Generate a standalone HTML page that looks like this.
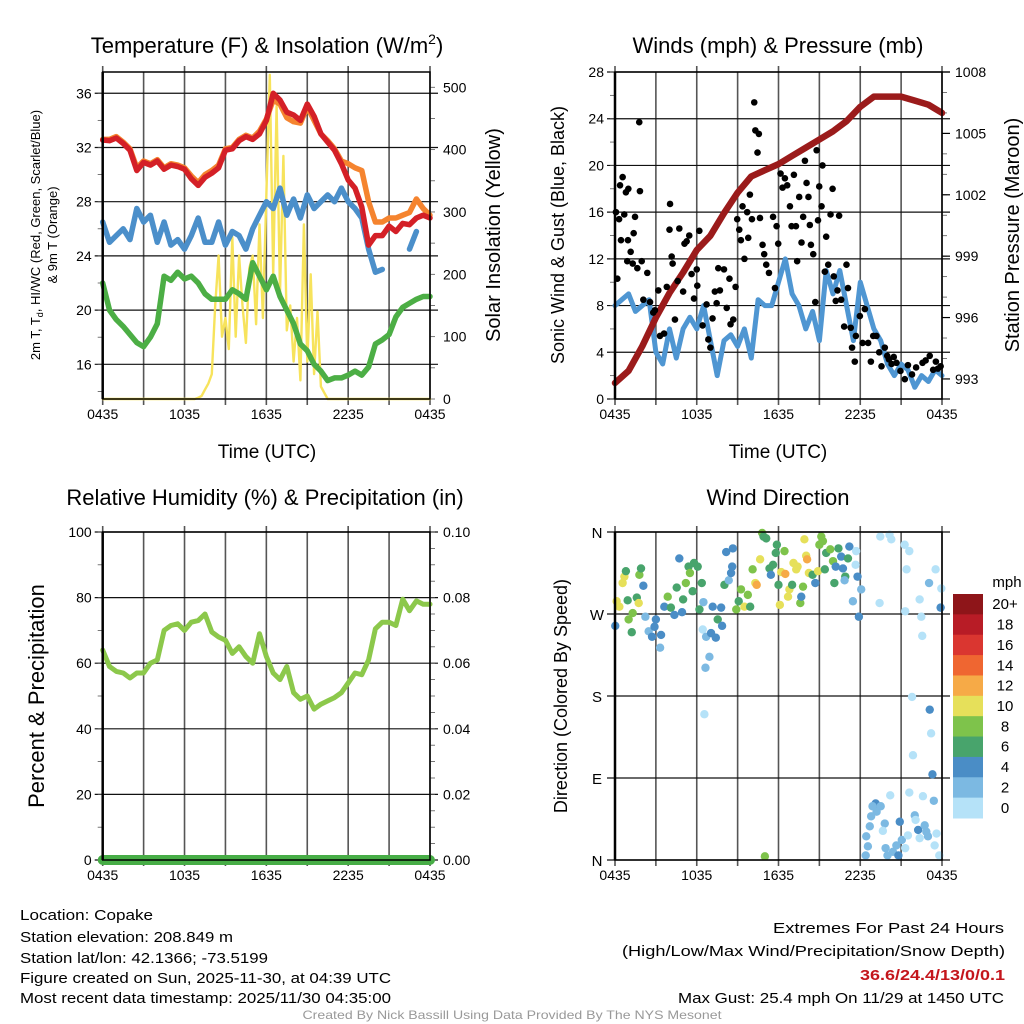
<!DOCTYPE html>
<html><head><meta charset="utf-8"><style>
html,body{margin:0;padding:0;background:#fff;}
svg{display:block;font-family:"Liberation Sans",sans-serif;}
</style></head><body>
<svg id="chart" width="1024" height="1024" viewBox="0 0 1024 1024"></svg>
<script>
// ---- data ----
const halfHours = Array.from({length:49},(_,i)=>i*0.5);
const hourIdx = Array.from({length:25},(_,i)=>i);
const tempRed = [32.55,32.5,32.7,32.3,31.8,30.3,30.9,30.7,31.0,30.4,30.7,30.6,30.4,29.7,29.2,29.8,30.1,30.5,31.8,31.9,32.5,32.8,32.6,33.0,34.0,36.0,35.5,34.6,34.4,34.0,35.2,34.3,33.0,32.4,31.8,30.8,29.6,29.0,27.6,24.8,25.5,25.5,26.2,25.8,26.4,26.3,26.8,27.0,26.8];
const temp9m = [32.6,32.6,32.8,32.4,31.9,30.5,31.0,30.8,31.1,30.5,30.8,30.7,30.5,29.9,29.4,30.0,30.3,30.7,31.9,32.0,32.6,32.9,32.7,33.2,34.1,35.5,35.2,34.2,33.9,33.8,35.0,34.0,33.0,32.5,31.9,31.0,30.8,30.5,30.3,28.0,26.5,26.5,26.8,26.8,27.0,27.2,28.2,27.5,27.0];
const windChill = [26.5,25.0,25.5,26.0,25.2,27.5,26.5,27.0,25.0,26.5,24.8,25.2,24.5,25.5,26.8,25.0,25.0,26.5,24.8,25.8,25.5,24.5,26.0,27.0,28.0,27.5,29.0,27.0,28.2,26.8,28.5,27.5,28.0,28.5,28.0,29.0,28.0,27.5,26.8,24.5,22.8,23.0,null,null,null,24.5,25.8,null,null];
const dewPoint = [22.0,20.0,19.3,18.8,18.2,17.6,17.3,18.0,19.0,22.5,22.2,22.8,22.3,22.5,22.0,21.2,20.8,20.8,20.8,21.5,21.2,20.8,23.5,22.5,21.5,22.5,21.0,20.0,19.0,17.5,17.0,16.0,15.5,14.8,15.0,15.0,15.2,15.5,15.2,15.8,17.5,17.8,18.2,19.5,20.2,20.5,20.8,21.0,21.0];
const solarHours = [0,6.75,7.0,7.25,7.5,7.75,8.0,8.25,8.5,8.75,9.0,9.25,9.5,9.75,10.0,10.25,10.5,10.75,11.0,11.25,11.5,11.75,12.0,12.25,12.5,12.75,13.0,13.25,13.5,13.75,14.0,14.25,14.5,14.75,15.0,15.25,15.5,15.75,16.0,16.25,16.5,24];
const solarValues = [0,0,2,5,15,25,40,150,230,100,130,80,260,100,230,150,90,210,230,120,280,130,330,520,200,470,170,390,110,150,60,130,30,280,60,200,40,140,20,10,0,0];
const windSpeed = [8,8.5,9,7.5,8,8.5,4,3,6,3.5,6,7,6,8,5,2,5,5.5,4.5,6,3.5,8.5,8,8,10,12,9,8,6,7.5,5,11,9,11,8,5,10,8,6,5,3,2,3,2.5,1,2,1.5,2.5,2];
const pressure = [992.8,993.4,994.6,996.0,997.2,998.2,999.3,1000.0,1001.1,1002.1,1002.9,1003.2,1003.5,1003.9,1004.3,1004.7,1005.1,1005.6,1006.3,1006.8,1006.8,1006.8,1006.6,1006.4,1006.0];
const gustHours = [0.07,0.17,0.3,0.37,0.56,0.44,0.68,0.8,0.98,0.95,1.15,0.9,1.3,1.37,1.47,1.64,1.78,1.83,1.96,2.08,2.37,2.57,2.81,2.93,3.18,3.3,3.6,3.8,4.0,4.04,4.16,4.23,4.4,4.6,4.72,5.0,5.1,5.26,5.45,5.62,5.8,6.0,6.19,6.04,6.43,6.72,6.85,7.0,7.16,7.33,7.58,7.46,7.7,8.0,8.2,8.4,8.48,8.68,8.85,8.97,9.12,9.24,9.36,9.5,9.7,9.78,9.9,10.05,10.22,10.3,10.46,10.56,10.64,10.83,10.95,11.1,11.3,11.6,11.74,11.86,11.98,12.15,12.3,12.47,12.64,12.84,12.96,13.13,13.28,13.37,13.52,13.69,13.81,13.94,14.06,14.2,14.3,14.38,14.55,14.7,14.8,14.9,14.99,15.16,15.23,15.4,15.5,15.65,15.82,15.97,16.06,16.2,16.33,16.45,16.6,16.82,16.99,17.1,17.3,17.4,17.6,17.68,17.97,18.17,18.34,18.58,18.78,18.95,19.19,19.39,19.56,19.8,19.98,20.1,20.3,20.46,20.66,20.95,21.27,21.5,21.8,22.1,22.57,22.8,23.1,23.35,23.55,23.7,23.9];
const gustValues = [16.0,10.3,15.4,18.3,19.0,13.6,15.8,17.7,18.0,13.6,12.6,11.8,11.6,14.2,15.6,11.2,23.7,17.8,11.8,8.5,10.8,8.3,7.4,7.6,9.3,5.4,5.6,9.6,14.5,16.7,12.2,11.6,6.8,10.1,14.6,9.2,13.3,13.5,14.0,10.7,8.6,11.1,14.4,9.7,6.3,8.1,5.1,4.4,6.9,9.2,11.2,8.2,9.3,11.1,7.8,10.3,6.4,6.8,9.6,15.4,14.5,13.6,16.5,12.0,16.0,13.8,17.5,15.4,25.4,23.0,21.1,22.7,15.5,13.2,12.4,11.5,10.8,15.6,9.5,14.8,13.3,19.3,18.1,18.9,18.3,16.5,14.8,19.2,14.8,11.8,17.3,13.4,15.6,20.4,18.5,17.3,14.9,13.2,12.4,8.3,21.3,15.3,18.2,16.5,20.0,10.9,13.9,11.5,15.8,18.0,10.5,8.4,9.3,15.7,8.5,6.2,11.5,9.5,6.1,4.4,3.2,5.4,7.1,4.8,7.7,4.8,3.2,5.4,5.4,4.0,2.8,4.4,3.7,3.4,3.0,3.6,3.1,2.4,1.7,2.9,2.1,2.7,3.1,3.3,3.7,2.5,3.2,2.6,2.8];
const rhValues = [64,59,57.5,57,55.5,57,57,60,61,70,71.5,72,70,72.5,73,75,69.5,68,67,63,65,62,60,69,62,57,55,59,51,49,50,46,47.5,48.5,49.5,51,54,57,56.5,61,70.5,72.5,72.5,71.5,79.5,76,79,78,78];
const precipValues = [0,0];
const precipHours = [0,24];
const dirHours = [0.02,0.12,0.32,0.56,0.69,0.8,0.93,1.0,1.23,1.3,1.6,1.74,1.79,1.91,2.08,2.23,2.47,2.72,2.9,3.0,3.31,3.38,3.62,3.87,4.1,4.36,4.53,4.72,4.92,5.0,5.2,5.4,5.5,5.7,5.8,6.07,6.2,6.37,6.44,6.49,6.69,6.93,6.64,6.56,7.05,7.17,7.4,7.54,7.79,7.86,8.03,8.16,8.35,8.52,8.6,8.65,8.9,9.08,9.25,9.5,9.75,9.92,10.1,10.3,10.4,10.65,10.8,10.9,11.1,11.0,11.34,11.44,11.6,11.8,11.88,12.0,12.1,12.2,12.44,12.5,12.7,12.8,13.0,13.1,13.3,13.4,13.6,13.67,13.8,13.9,14.03,14.1,14.23,14.5,14.7,14.9,15.0,15.14,15.26,15.4,15.5,15.8,16.0,16.1,16.2,16.4,16.6,16.73,16.9,17.1,17.2,16.85,17.46,17.7,17.8,17.9,18.07,17.66,19.47,20.15,20.28,19.42,21.26,21.6,21.4,21.3,22.36,22.48,22.55,23.05,23.53,23.95,23.9,21.8,23.1,23.2,21.87,23.3,20.2,21.6,22.6,23.4,19.13,18.9,19.5,19.2,18.8,18.7,19.8,19.66,18.44,18.56,18.4,19.86,20.0,20.4,20.65,20.8,20.9,21.05,21.3,21.5,22.0,22.06,22.25,22.36,22.73,22.85,22.97,23.46,23.6,23.8];
const dirDegrees = [257,284,278,304,311,317,285,264,250,271,288,282,313,320,301,267,251,245,256,264,233,247,278,289,277,269,299,331,272,286,304,322,315,295,326,322,275,304,253,283,245,223,211,160,249,278,244,264,277,257,302,338,307,315,322,342,275,284,297,278,291,278,319,304,302,330,359,355,353,4,320,313,324,337,346,302,280,316,339,314,289,297,302,326,319,322,282,289,300,352,334,330,315,313,304,317,346,355,350,319,337,341,328,304,322,342,333,320,311,331,344,307,284,339,311,267,297,324,355,357,352,282,346,339,319,273,286,267,246,304,319,298,277,179,165,139,115,94,71,74,70,65,62,59,59,53,48,37,40,32,26,15,5,13,5,9,16,5,42,22,13,27,49,44,33,24,38,31,26,16,29,5];
const dirSpeeds = [5,11,11,11,11,7,7,9,7,9,7,11,9,7,5,3,3,5,5,5,3,5,5,9,7,5,7,5,5,7,9,7,9,7,7,7,7,7,1,3,3,3,3,1,5,5,5,7,5,5,7,5,3,5,5,5,9,7,9,11,9,7,9,11,13,11,9,7,7,9,7,5,7,7,7,7,11,11,9,13,11,11,7,11,11,11,9,5,9,11,11,13,11,7,5,11,9,9,9,7,7,9,9,7,5,7,5,5,7,7,5,3,3,1,5,5,3,1,1,1,1,1,1,1,1,1,1,1,1,3,1,1,5,1,5,1,1,5,1,1,1,3,5,3,3,3,3,3,3,1,3,3,3,3,3,3,3,5,5,3,1,1,3,1,5,1,3,3,3,1,1,1];
const speedBins = ['0','2','4','6','8','10','12','14','16','18','20+'];
const speedColors = ['#b5e2f8','#7cb9e2','#4a8dc6','#48a46c','#7ec34b','#e6e05a','#f6aa47','#ef6631','#da3630','#b81c26','#8e1519'];
const xTickLabels = ['0435','1035','1635','2235','0435'];
const tempTicks = [16,20,24,28,32,36];
const solarTicks = [0,100,200,300,400,500];
const windTicks = [0,4,8,12,16,20,24,28];
const presTicks = [993,996,999,1002,1005,1008];
const rhTicks = [0,20,40,60,80,100];
const precipTicks = ['0.00','0.02','0.04','0.06','0.08','0.10'];
const dirLabels = ['N','E','S','W','N'];

const NS='http://www.w3.org/2000/svg';
const svg=document.getElementById('chart');
function mk(tag,attrs,parent){const e=document.createElementNS(NS,tag);for(const k in attrs)e.setAttribute(k,attrs[k]);(parent||svg).appendChild(e);return e;}
function txt(s,attrs,parent){const e=mk('text',attrs,parent);e.textContent=s;return e;}

const P1={x0:102.7,x1:430,y0:72,y1:399};
const P2={x0:615,x1:942,y0:72,y1:399};
const P3={x0:102.7,x1:430,y0:532,y1:860};
const P4={x0:615,x1:942,y0:532,y1:860};
function xs(p,h){return p.x0+h/24*(p.x1-p.x0);}
function ys(p,v,lo,hi){return p.y1-(v-lo)/(hi-lo)*(p.y1-p.y0);}

function frame(p,name){
  const g=mk('g',{});
  
  
  for(let i=0;i<=8;i++){const x=xs(p,i*3);mk('line',{x1:x,x2:x,y1:p.y0-(i%2==0?6:0),y2:p.y1+6,stroke:'#555',"stroke-width":1.6},g);}
  return g;
}
function hgrid(p,vals,lo,hi,name){
  const g=mk('g',{});
  
  
  vals.forEach(v=>{const y=ys(p,v,lo,hi);mk('line',{x1:p.x0-8,x2:p.x1+8,y1:y,y2:y,stroke:'#111',"stroke-width":1.2},g);});
}
function minor(p,lo,hi,step,side){
  for(let v=Math.ceil(lo/step)*step;v<=hi+1e-9;v+=step){const y=ys(p,v,lo,hi);
    if(side==='l')mk('line',{x1:p.x0-5,x2:p.x0,y1:y,y2:y,stroke:'#555',"stroke-width":0.8});
    else mk('line',{x1:p.x1,x2:p.x1+5,y1:y,y2:y,stroke:'#555',"stroke-width":0.8});}
}
function border(p,name){
  const r=mk('rect',{x:p.x0,y:p.y0,width:p.x1-p.x0,height:p.y1-p.y0,fill:'none',stroke:'#000',"stroke-width":1.5});
  
  
  mk('line',{x1:p.x0,x2:p.x0,y1:p.y0,y2:p.y1,stroke:'#000',"stroke-width":2.5});
}
function xlabels(p,name){
  xTickLabels.forEach((s,i)=>{const t=txt(s,{x:xs(p,i*6),y:p.y1+20,"font-size":14,"text-anchor":"middle"});
    
    });
}
function leftLabels(p,vals,lo,hi,labels,name){
  vals.forEach((v,i)=>{const t=txt(labels?labels[i]:String(v),{x:p.x0-11,y:ys(p,v,lo,hi)+5,"font-size":14,"text-anchor":"end"});
    
    });
}
function rightLabels(p,vals,lo,hi,labels,name){
  vals.forEach((v,i)=>{const t=txt(labels?labels[i]:String(v),{x:p.x1+13,y:ys(p,v,lo,hi)+5,"font-size":14});
    
    });
}
function line(p,hrs,vals,lo,hi,color,w,name){
  let d='',pen=false;
  vals.forEach((v,i)=>{if(v===null){pen=false;return;}const x=xs(p,hrs[i]),y=ys(p,v,lo,hi);d+=(pen?'L':'M')+x.toFixed(1)+' '+y.toFixed(1);pen=true;});
  const e=mk('path',{d:d,fill:'none',stroke:color,"stroke-width":w,"stroke-linejoin":"round","stroke-linecap":"round"});
  
  
  return e;
}

// ---- Panel 1 ----
const T0=13.44,T1=37.57,S1=524.5;
frame(P1,'temperature');
hgrid(P1,tempTicks,T0,T1,'temperature-h-grid');
minor(P1,T0,T1,2,'l');minor(P1,0,S1,50,'r');
line(P1,solarHours,solarValues,0,S1,'#f7e35c',2.4,'solar-insolation-line');
line(P1,halfHours,dewPoint,T0,T1,'#4cae45',5.5,'dewpoint-line');
line(P1,halfHours,windChill,T0,T1,'#4b8fca',5.5,'wind-chill-line');
line(P1,halfHours,temp9m,T0,T1,'#f5842f',5.5,'temperature-9m-line');
line(P1,halfHours,tempRed,T0,T1,'#d42027',5.5,'temperature-2m-line');
border(P1,'temperature');
leftLabels(P1,tempTicks,T0,T1,null,'temperature-y-tick-label');
rightLabels(P1,solarTicks,0,S1,null,'solar-y-tick-label');
xlabels(P1,'temperature');

// ---- Panel 2 ----
const PR0=992.02,PR1=1008;
frame(P2,'wind');
hgrid(P2,windTicks,0,28,'wind-h-grid');
minor(P2,0,28,2,'l');minor(P2,PR0,PR1,1,'r');
presTicks.forEach(v=>{const y=ys(P2,v,PR0,PR1);mk('line',{x1:P2.x1,x2:P2.x1+8,y1:y,y2:y,stroke:'#000',"stroke-width":1.2});});
line(P2,halfHours,windSpeed,0,28,'#4f96d2',5,'sonic-wind-line');
line(P2,hourIdx,pressure,PR0,PR1,'#9b1b1b',6.5,'station-pressure-line');
gustHours.forEach((h,i)=>{const c=mk('circle',{cx:xs(P2,h),cy:ys(P2,gustValues[i],0,28),r:3.3,fill:'#000'});
  
  });
border(P2,'wind');
leftLabels(P2,windTicks,0,28,null,'wind-y-tick-label');
rightLabels(P2,presTicks,PR0,PR1,null,'pressure-y-tick-label');
xlabels(P2,'wind');

// ---- Panel 3 ----
frame(P3,'humidity');
hgrid(P3,rhTicks,0,100,'humidity-h-grid');
minor(P3,0,100,10,'l');minor(P3,0,100,5,'r');
line(P3,halfHours,rhValues,0,100,'#8cc84b',5,'relative-humidity-line');
line(P3,precipHours,precipValues.map(v=>v*1000),0,100,'#47ad46',10,'precipitation-line');
border(P3,'humidity');
leftLabels(P3,rhTicks,0,100,null,'humidity-y-tick-label');
rightLabels(P3,rhTicks,0,100,precipTicks,'precip-y-tick-label');
xlabels(P3,'humidity');

// ---- Panel 4 ----
frame(P4,'direction');
hgrid(P4,[0,90,180,270,360],0,360,'direction-h-grid');
dirHours.forEach((h,i)=>{const s=dirSpeeds[i];const bi=Math.min(10,Math.floor(s/2));
  const c=mk('circle',{cx:xs(P4,h),cy:ys(P4,dirDegrees[i],0,360),r:4.2,fill:speedColors[bi]});
  
  });
border(P4,'direction');
dirLabels.forEach((s,i)=>{const t=txt(s,{x:P4.x0-18,y:ys(P4,i*90,0,360)+6,"font-size":15,"text-anchor":"middle"});
  
  });
xlabels(P4,'direction');
// colorbar
const cb=mk('g',{});


const cbTop=594,cbH=224/11;
speedColors.slice().reverse().forEach((c,i)=>{mk('rect',{x:953,y:cbTop+i*cbH,width:30,height:cbH+0.5,fill:c},cb);});
speedBins.slice().reverse().forEach((s,i)=>{txt(s,{x:1005,y:cbTop+i*cbH+cbH/2+5,"font-size":15,"text-anchor":"middle"},cb);});
txt('mph',{x:1007,y:587,"font-size":15,"text-anchor":"middle"},cb);

// ---- titles ----
function title(s,x,y,size,name,rot){const a={x:x,y:y,"font-size":size,"text-anchor":"middle"};if(rot)a.transform='rotate(-90 '+x+' '+y+')';const t=txt(s,a);
  
  return t;}
const t1=title('Temperature (F) & Insolation (W/m',267,53,22,'temperature-title');
const sup=mk('tspan',{dy:-9,"font-size":14},t1);sup.textContent='2';
const sup2=mk('tspan',{dy:9},t1);sup2.textContent=')';
title('Winds (mph) & Pressure (mb)',778,53,22,'wind-title');
title('Relative Humidity (%) & Precipitation (in)',265,505,22,'humidity-title');
title('Wind Direction',778,505,22,'direction-title');
title('Time (UTC)',267,458,19,'temperature-x-axis-title');
title('Time (UTC)',778,458,19,'wind-x-axis-title');
const yl=title('2m T, T',40,235,13,'temperature-y-axis-title',true);
const sub=mk('tspan',{dy:3,"font-size":9},yl);sub.textContent='d';
const sub2=mk('tspan',{dy:-3},yl);sub2.textContent=', HI/WC (Red, Green, Scarlet/Blue)';
title('& 9m T (Orange)',57,235,13,'temperature-y-axis-title-2',true);
title('Solar Insolation (Yellow)',500,235,20,'solar-y-axis-title',true);
title('Sonic Wind & Gust (Blue, Black)',564,235,18,'wind-y-axis-title',true);
title('Station Pressure (Maroon)',1019,235,20,'pressure-y-axis-title',true);
title('Percent & Precipitation',44,696,22,'humidity-y-axis-title',true);
title('Direction (Colored By Speed)',567,696,18,'direction-y-axis-title',true);

// ---- info text ----
function info(s,x,y,w,anchor,name,extra){const a={x:x,y:y,"font-size":15,"text-anchor":anchor,textLength:w,lengthAdjust:'spacingAndGlyphs'};Object.assign(a,extra||{});const t=txt(s,a);
  
  }
info('Location: Copake',20,920,133,'start','location-text');
info('Station elevation: 208.849 m',20,942,213,'start','elevation-text');
info('Station lat/lon: 42.1366; -73.5199',20,963,248,'start','latlon-text');
info('Figure created on Sun, 2025-11-30, at 04:39 UTC',20,983,371,'start','created-text');
info('Most recent data timestamp: 2025/11/30 04:35:00',20,1003,371,'start','timestamp-text');
info('Extremes For Past 24 Hours',1004,933,231,'end','extremes-title');
info('(High/Low/Max Wind/Precipitation/Snow Depth)',1005,956,383,'end','extremes-legend');
info('36.6/24.4/13/0/0.1',1005,980,145,'end','extremes-values',{fill:'#c4161c',"font-weight":'bold'});
info('Max Gust: 25.4 mph On 11/29 at 1450 UTC',1004,1003,326,'end','max-gust-text');
info('Created By Nick Bassill Using Data Provided By The NYS Mesonet',512,1019,419,'middle','credit-text',{fill:'#999',"font-size":12});
</script>
</body></html>
